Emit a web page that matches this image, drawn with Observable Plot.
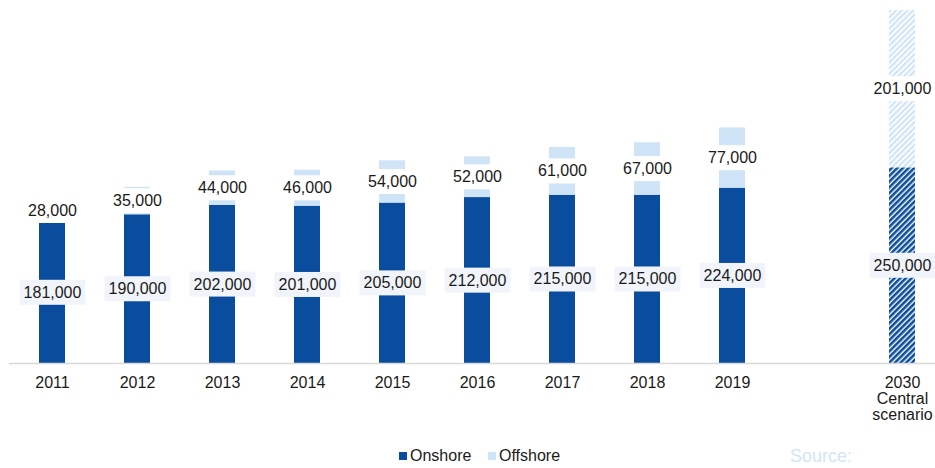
<!DOCTYPE html>
<html><head><meta charset="utf-8">
<script src="https://cdn.jsdelivr.net/npm/d3@7"></script>
<script src="https://cdn.jsdelivr.net/npm/@observablehq/plot@0.6"></script>
<style>
body{margin:0;background:#fff;font-family:"Liberation Sans",Arial,sans-serif;}
#wrap{position:relative;width:935px;height:468px;overflow:hidden;}
#legend{position:absolute;top:446px;left:0;width:935px;height:20px;font-size:16px;color:#1a1a1a;}
.li{position:absolute;top:0;line-height:20px;white-space:nowrap;}
.sw{display:inline-block;width:8px;height:8px;margin-right:3px;vertical-align:1px;}
#source{position:absolute;left:790px;top:446px;font-size:18px;line-height:20px;color:#d3e5f6;}
</style></head><body><div id="wrap"></div>
<script>
const years = ["2011","2012","2013","2014","2015","2016","2017","2018","2019","2030"];
const onshore = [181000,190000,202000,201000,205000,212000,215000,215000,224000,250000];
const offshore = [28000,35000,44000,46000,54000,52000,61000,67000,77000,201000];
const projectedYear = "2030";
const projectedLabel = "2030\nCentral\nscenario";
const gapKey = " ";
const seriesNames = ["Onshore","Offshore"];
const seriesColors = ["#0a4d9f","#cfe4f7"];
const hatchIds = ["hatchOn","hatchOff"];

const domain = [...years.slice(0, 9), gapKey, projectedYear];
const data = years.flatMap((yr, i) => [
  {year: yr, type: seriesNames[0], value: onshore[i]},
  {year: yr, type: seriesNames[1], value: offshore[i]}
]);
const fmt = d3.format(",");
const fillFor = d => {
  const k = seriesNames.indexOf(d.type);
  return d.year === projectedYear ? `url(#${hatchIds[k]})` : seriesColors[k];
};

const svg = Plot.plot({
  width: 935, height: 425,
  marginTop: 10, marginBottom: 62, marginLeft: 9, marginRight: 0,
  x: {domain, range: [8, 945], paddingInner: 0.7, paddingOuter: 0.35, axis: null},
  y: {domain: [0, 451000], axis: null},
  color: {type: "identity"},
  style: {fontFamily: '"Liberation Sans", Arial, sans-serif', fontSize: "16px", color: "#1a1a1a", background: "#fff"},
  marks: [
    Plot.barY(data, Plot.stackY({x: "year", y: "value", z: "type", fill: fillFor})),
    Plot.ruleY([0], {stroke: "#d9d9d9", strokeWidth: 1.5}),
    Plot.axisX({ticks: years, tickSize: 0, tickPadding: 13, fontSize: 16, label: null,
      tickFormat: d => d === projectedYear ? projectedLabel : d}),
    Plot.text(data, Plot.stackY({x: "year", y: "value", z: "type", fontSize: 16, fill: "#1a1a1a",
      text: d => d.type === seriesNames[0] ? fmt(d.value) : null, className: "labon"})),
    Plot.text(data, Plot.stackY({x: "year", y: "value", z: "type", fontSize: 16, fill: "#1a1a1a",
      text: d => d.type === seriesNames[1] ? fmt(d.value) : null, className: "laboff"}))
  ]
});

// hatch patterns for the projected bar
const defs = d3.select(svg).insert("defs", ":first-child");
[[hatchIds[0], seriesColors[0], "#ffffff", 2.6], [hatchIds[1], "#cfe4f7", "#ffffff", 2.2]].forEach(([id, c, bg, w]) => {
  const p = defs.append("pattern").attr("id", id).attr("patternUnits", "userSpaceOnUse")
    .attr("width", 4).attr("height", 4).attr("patternTransform", "rotate(45)");
  p.append("rect").attr("width", 4).attr("height", 4).attr("fill", bg);
  p.append("rect").attr("width", w).attr("height", 4).attr("fill", c);
});

document.getElementById("wrap").appendChild(svg);

// label background boxes
[["labon", "#f1f5fb"], ["laboff", "#ffffff"]].forEach(([cls, bg]) => {
  svg.querySelectorAll(`g.${cls} text`).forEach(t => {
    const b = t.getBBox();
    const r = document.createElementNS("http://www.w3.org/2000/svg", "rect");
    const h = 25;
    r.setAttribute("x", b.x - 4);
    r.setAttribute("y", b.y + b.height / 2 - h / 2);
    r.setAttribute("width", b.width + 8);
    r.setAttribute("height", h);
    r.setAttribute("fill", bg);
    if (t.getAttribute("transform")) r.setAttribute("transform", t.getAttribute("transform"));
    t.parentNode.insertBefore(r, t);
  });
});

// legend
const legend = document.createElement("div");
legend.id = "legend";
const legendX = [399, 488];
seriesNames.forEach((n, i) => {
  const item = document.createElement("div");
  item.className = "li";
  item.style.left = legendX[i] + "px";
  item.innerHTML = `<span class="sw" style="background:${seriesColors[i]}"></span>${n}`;
  legend.appendChild(item);
});
document.getElementById("wrap").appendChild(legend);
const src = document.createElement("div");
src.id = "source";
src.textContent = "Source:";
document.getElementById("wrap").appendChild(src);
</script></body></html>
